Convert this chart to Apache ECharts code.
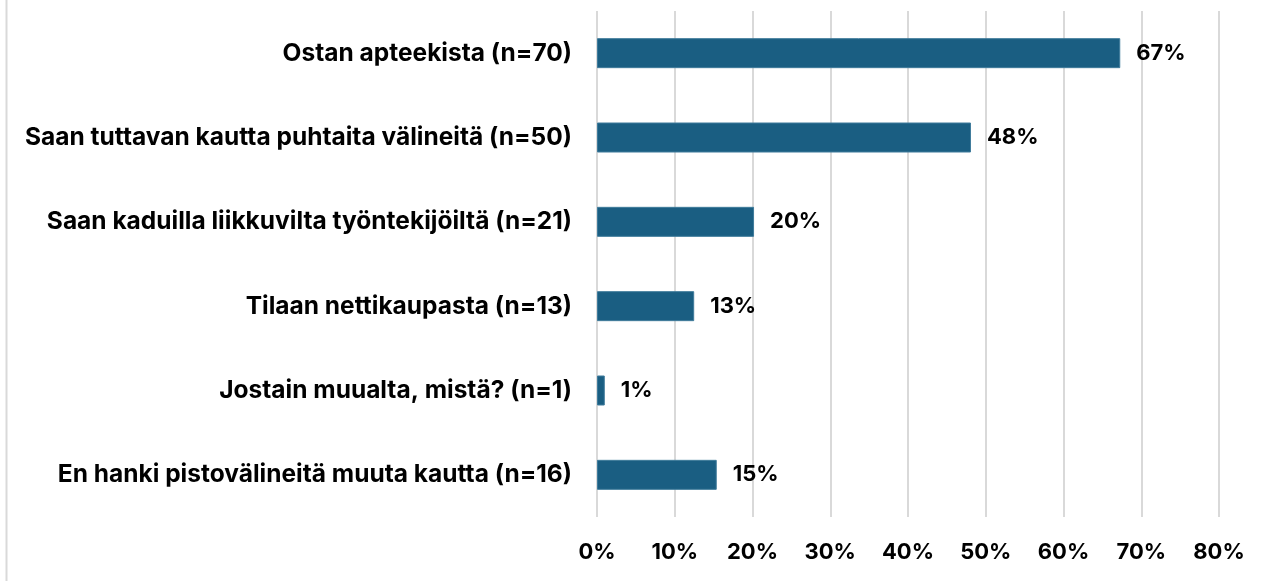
<!DOCTYPE html>
<html>
<head>
<meta charset="utf-8">
<script src="https://cdn.jsdelivr.net/npm/echarts@6/dist/echarts.min.js"></script>
<style>
  html, body { margin: 0; padding: 0; background: #fff; }
  #chart { width: 1271px; height: 581px; }
</style>
</head>
<body>
<div id="chart"></div>
<script>
// categories top to bottom
const categories = [
  "Ostan apteekista (n=70)",
  "Saan tuttavan kautta puhtaita välineitä (n=50)",
  "Saan kaduilla liikkuvilta työntekijöiltä (n=21)",
  "Tilaan nettikaupasta (n=13)",
  "Jostain muualta, mistä? (n=1)",
  "En hanki pistovälineitä muuta kautta (n=16)"
];
// percent of respondents
const shares = [67.3, 48.1, 20.2, 12.5, 1.0, 15.4];
const xTicks = [0, 10, 20, 30, 40, 50, 60, 70, 80];

const font = "Inter, 'Liberation Sans', sans-serif";
const chart = echarts.init(document.getElementById("chart"));

chart.setOption({
  animation: false,
  backgroundColor: "#fff",
  graphic: [{
    type: "line",
    shape: { x1: 6.5, y1: 0, x2: 6.5, y2: 581 },
    style: { stroke: "#d9d9d9", lineWidth: 2 }
  }],
  grid: { left: 597, right: 52, top: 11, bottom: 64 },
  xAxis: {
    type: "value",
    min: xTicks[0],
    max: xTicks[xTicks.length - 1],
    interval: 10,
    axisLine: { show: false },
    axisTick: { show: false },
    splitLine: { lineStyle: { color: "#d9d9d9", width: 2 } },
    axisLabel: {
      formatter: v => v + "%",
      color: "#000",
      fontFamily: font,
      fontWeight: "bold",
      fontSize: 22,
      margin: 24
    }
  },
  yAxis: {
    type: "category",
    inverse: true,
    data: categories,
    axisLine: { show: false },
    axisTick: { show: false },
    axisLabel: {
      color: "#000",
      fontFamily: font,
      fontWeight: "bold",
      fontSize: 24.5,
      margin: 25
    }
  },
  series: [{
    type: "bar",
    data: shares,
    barWidth: 30,
    itemStyle: { color: "#1a5e82", borderColor: "#3f7b9b", borderWidth: 1 },
    label: {
      show: true,
      position: "right",
      distance: 16,
      formatter: p => Math.round(p.value) + "%",
      color: "#000",
      fontFamily: font,
      fontWeight: "bold",
      fontSize: 22
    }
  }]
});
</script>
</body>
</html>
